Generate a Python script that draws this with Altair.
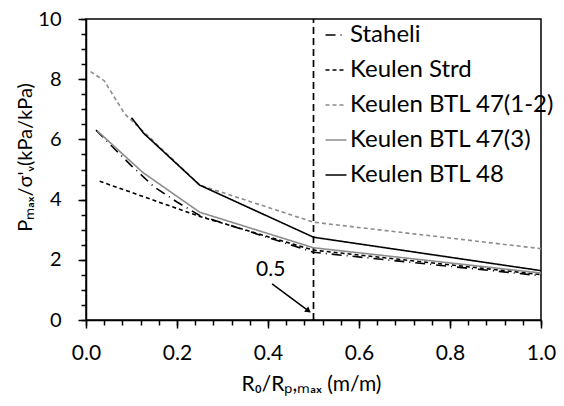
import altair as alt
import pandas as pd

series_names = ["Staheli", "Keulen Strd", "Keulen BTL 47(1-2)", "Keulen BTL 47(3)", "Keulen BTL 48"]

staheli_x = [0.022, 0.1, 0.15, 0.2, 0.25, 0.5, 1.0]
staheli_y = [6.31, 5.12, 4.42, 3.92, 3.47, 2.25, 1.47]

strd_x = [0.03, 0.25, 0.5, 1.0]
strd_y = [4.61, 3.44, 2.32, 1.51]

btl4712_x = [0.01, 0.04, 0.085, 0.25, 0.5, 1.0]
btl4712_y = [8.25, 7.95, 6.85, 4.48, 3.25, 2.37]

btl473_x = [0.025, 0.125, 0.25, 0.5, 1.0]
btl473_y = [6.28, 4.9, 3.58, 2.4, 1.56]

btl48_x = [0.1, 0.127, 0.25, 0.5, 1.0]
btl48_y = [6.72, 6.2, 4.48, 2.75, 1.64]

series_x = [staheli_x, strd_x, btl4712_x, btl473_x, btl48_x]
series_y = [staheli_y, strd_y, btl4712_y, btl473_y, btl48_y]

marker_x = [0.5]
arrow_start = [0.409, 1.20]
arrow_end = [0.489, 0.305]
note_text = ["0.5"]
note_pos = [0.406, 1.67]

x_major = [0.0, 0.2, 0.4, 0.6, 0.8, 1.0]
x_minor = [round(i * 0.04, 2) for i in range(26)]
y_major = [0, 2, 4, 6, 8, 10]
y_minor = [i * 0.5 for i in range(21)]

rows = []
for name, xs, ys in zip(series_names, series_x, series_y):
    for i, (xv, yv) in enumerate(zip(xs, ys)):
        rows.append({"series": name, "x": xv, "y": yv, "order": i})
df = pd.DataFrame(rows)

FONT = "Lato"
GRAY = "#8c8c8c"

xscale = alt.Scale(domain=[0, 1], nice=False, zero=False)
yscale = alt.Scale(domain=[0, 10], nice=False, zero=False)

x_title = "R₀/Rₚ,ₘₐₓ (m/m)"
y_title = "Pₘₐₓ/σ'ᵥ(kPa/kPa)"

lines = alt.Chart(df).mark_line(strokeCap="butt").encode(
    x=alt.X("x:Q", scale=xscale,
            axis=alt.Axis(values=x_major, format=".1f", title=x_title, orient="bottom",
                          tickSize=8, labelPadding=14, grid=False, labelFlush=False,
                          titleX=225, titleY=70, titleBaseline="alphabetic",
                          titleFontSize=21, titleFontWeight="normal")),
    y=alt.Y("y:Q", scale=yscale,
            axis=alt.Axis(values=y_major, format="d", title=y_title, orient="left",
                          tickSize=8, labelPadding=17, grid=False, labelFlush=False,
                          labelFontSize=20,
                          titleX=-61, titleY=138, titleBaseline="middle",
                          titleFontSize=20, titleFontWeight="normal")),
    color=alt.Color("series:N", scale=alt.Scale(domain=series_names,
                    range=["black", "black", GRAY, GRAY, "black"]),
                    sort=series_names,
                    legend=alt.Legend(title=None, orient="none", legendX=238, legendY=4,
                                      symbolType="stroke", symbolSize=441,
                                      labelFontSize=24,
                                      labelFont=FONT, labelColor="black",
                                      labelOffset=2, rowPadding=11, padding=0,
                                      labelLimit=400)),
    strokeDash=alt.StrokeDash("series:N", scale=alt.Scale(domain=series_names,
                              range=[[10, 5, 1, 5], [4, 3], [4, 3], [1, 0], [1, 0]]),
                              sort=series_names, legend=alt.Legend(title=None)),
    strokeWidth=alt.StrokeWidth("series:N", scale=alt.Scale(domain=series_names,
                                range=[1.6, 1.6, 1.6, 2.0, 2.0]), legend=None),
    order="order:Q",
)

minor = alt.Chart(pd.DataFrame({"x": marker_x})).mark_rule(
    color="black", strokeDash=[7, 4], strokeWidth=1.7
).encode(
    x=alt.X("x:Q", scale=xscale,
            axis=alt.Axis(values=x_minor, labels=False, domain=False, tickSize=5,
                          grid=False, title=None, orient="bottom")),
    y=alt.datum(0, scale=yscale,
                axis=alt.Axis(values=y_minor, labels=False, domain=False, tickSize=5,
                              grid=False, title=None, orient="left")),
    y2=alt.datum(10),
)

arrow_df = pd.DataFrame({"x": [arrow_start[0]], "y": [arrow_start[1]],
                         "x2": [arrow_end[0]], "y2": [arrow_end[1]]})
arrow = alt.Chart(arrow_df).mark_rule(color="black", strokeWidth=1.5).encode(
    x=alt.X("x:Q", scale=xscale, axis=None),
    y=alt.Y("y:Q", scale=yscale, axis=None),
    x2="x2:Q", y2="y2:Q",
)
head = alt.Chart(pd.DataFrame({"x": [arrow_end[0]], "y": [arrow_end[1]]})).mark_point(
    shape="triangle-right", filled=True, color="black", size=45, angle=37, opacity=1
).encode(
    x=alt.X("x:Q", scale=xscale, axis=None),
    y=alt.Y("y:Q", scale=yscale, axis=None),
)
note = alt.Chart(pd.DataFrame({"t": note_text, "x": [note_pos[0]], "y": [note_pos[1]]})).mark_text(
    font=FONT, fontSize=21, color="black", align="center", baseline="middle"
).encode(
    x=alt.X("x:Q", scale=xscale, axis=None),
    y=alt.Y("y:Q", scale=yscale, axis=None),
    text="t:N",
)

chart = alt.layer(minor, lines, arrow, head, note).resolve_axis(
    x="independent", y="independent"
).properties(
    width=455, height=301,
    padding={"left": 78, "top": 11, "right": 15, "bottom": 78},
    autosize=alt.AutoSizeParams(type="none"),
).configure_view(
    stroke="black", strokeWidth=1.5
).configure_axis(
    domainColor="black", domainWidth=1.5, tickColor="black", tickWidth=1.5,
    labelFont=FONT, labelFontSize=21, labelColor="black",
    titleFont=FONT, titleColor="black",
)

chart.save("out.html", embed_options={"renderer": "svg", "actions": False})
